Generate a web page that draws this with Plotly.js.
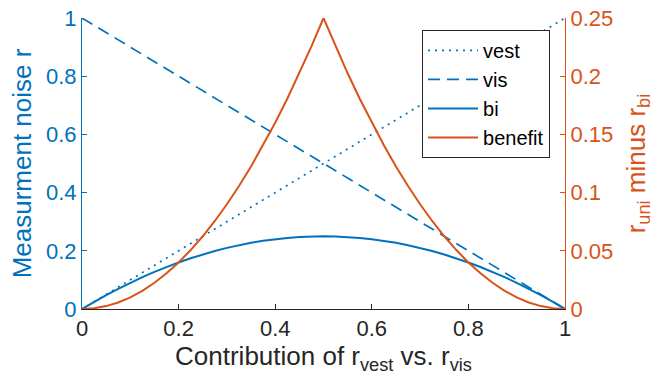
<!DOCTYPE html>
<html>
<head>
<meta charset="utf-8">
<script src="https://cdn.plot.ly/plotly-3.0.1.min.js"></script>
<style>
  html, body { margin: 0; padding: 0; background: #ffffff; }
  #chart { width: 666px; height: 387px; }
</style>
</head>
<body>
<div id="chart"></div>
<script>
// Mixing weight between the vestibular and visual estimates
const contribution = [0, 0.025, 0.05, 0.075, 0.1, 0.125, 0.15, 0.175, 0.2, 0.225, 0.25,
  0.275, 0.3, 0.325, 0.35, 0.375, 0.4, 0.425, 0.45, 0.475, 0.5,
  0.525, 0.55, 0.575, 0.6, 0.625, 0.65, 0.675, 0.7, 0.725, 0.75,
  0.775, 0.8, 0.825, 0.85, 0.875, 0.9, 0.925, 0.95, 0.975, 1];

// Unimodal noise levels
const vestNoise = [0, 0.025, 0.05, 0.075, 0.1, 0.125, 0.15, 0.175, 0.2, 0.225, 0.25,
  0.275, 0.3, 0.325, 0.35, 0.375, 0.4, 0.425, 0.45, 0.475, 0.5,
  0.525, 0.55, 0.575, 0.6, 0.625, 0.65, 0.675, 0.7, 0.725, 0.75,
  0.775, 0.8, 0.825, 0.85, 0.875, 0.9, 0.925, 0.95, 0.975, 1];
const visNoise = [1, 0.975, 0.95, 0.925, 0.9, 0.875, 0.85, 0.825, 0.8, 0.775, 0.75,
  0.725, 0.7, 0.675, 0.65, 0.625, 0.6, 0.575, 0.55, 0.525, 0.5,
  0.475, 0.45, 0.425, 0.4, 0.375, 0.35, 0.325, 0.3, 0.275, 0.25,
  0.225, 0.2, 0.175, 0.15, 0.125, 0.1, 0.075, 0.05, 0.025, 0];

// Combined (bimodal) noise
const biNoise = [0, 0.024375, 0.0475, 0.069375, 0.09, 0.109375, 0.1275, 0.144375, 0.16, 0.174375, 0.1875,
  0.199375, 0.21, 0.219375, 0.2275, 0.234375, 0.24, 0.244375, 0.2475, 0.249375, 0.25,
  0.249375, 0.2475, 0.244375, 0.24, 0.234375, 0.2275, 0.219375, 0.21, 0.199375, 0.1875,
  0.174375, 0.16, 0.144375, 0.1275, 0.109375, 0.09, 0.069375, 0.0475, 0.024375, 0];

// Benefit of combining: best unimodal noise minus bimodal noise
const benefit = [0, 0.000625, 0.0025, 0.005625, 0.01, 0.015625, 0.0225, 0.030625, 0.04, 0.050625, 0.0625,
  0.075625, 0.09, 0.105625, 0.1225, 0.140625, 0.16, 0.180625, 0.2025, 0.225625, 0.25,
  0.225625, 0.2025, 0.180625, 0.16, 0.140625, 0.1225, 0.105625, 0.09, 0.075625, 0.0625,
  0.050625, 0.04, 0.030625, 0.0225, 0.015625, 0.01, 0.005625, 0.0025, 0.000625, 0];

const xTicks = [0, 0.2, 0.4, 0.6, 0.8, 1];
const leftTicks = [0, 0.2, 0.4, 0.6, 0.8, 1];
const rightTicks = [0, 0.05, 0.1, 0.15, 0.2, 0.25];

const BLUE = '#0072BD';
const ORANGE = '#D95319';
const INK = '#262626';
const FONT = 'Liberation Sans, Arial, Helvetica, sans-serif';

const traces = [
  { x: contribution, y: vestNoise, name: 'vest', mode: 'lines',
    line: { color: BLUE, width: 1.7, dash: '2px,5px' } },
  { x: contribution, y: visNoise, name: 'vis', mode: 'lines',
    line: { color: BLUE, width: 1.7, dash: '12px,7px' } },
  { x: contribution, y: biNoise, name: 'bi', mode: 'lines',
    line: { color: BLUE, width: 2 } },
  { x: contribution, y: benefit, name: 'benefit', mode: 'lines', yaxis: 'y2',
    line: { color: ORANGE, width: 2 } }
];

const layout = {
  width: 666, height: 387,
  margin: { l: 82, r: 101, t: 18, b: 78 },
  paper_bgcolor: '#ffffff', plot_bgcolor: '#ffffff',
  font: { family: FONT, size: 22, color: INK },
  showlegend: true,
  legend: {
    x: 0.704, y: 0.959, xanchor: 'left', yanchor: 'top',
    bgcolor: '#ffffff', bordercolor: INK, borderwidth: 1,
    font: { family: FONT, size: 20, color: '#000000' },
    itemwidth: 50, tracegroupgap: 0
  },
  xaxis: {
    range: [0, 1], tickvals: xTicks, ticktext: xTicks.map(String),
    showgrid: false, zeroline: false,
    showline: true, linecolor: INK, linewidth: 1,
    ticks: 'inside', ticklen: 5, tickcolor: INK,
    tickfont: { family: FONT, size: 22, color: INK },
    title: { text: 'Contribution of r<sub>vest</sub> vs. r<sub>vis</sub>',
      font: { family: FONT, size: 26, color: INK }, standoff: 4 }
  },
  yaxis: {
    range: [0, 1], tickvals: leftTicks, ticktext: leftTicks.map(String),
    showgrid: false, zeroline: false,
    showline: true, linecolor: BLUE, linewidth: 1,
    ticks: 'inside', ticklen: 5, tickcolor: BLUE,
    tickfont: { family: FONT, size: 22, color: BLUE },
    title: { text: 'Measurment noise r',
      font: { family: FONT, size: 26, color: BLUE }, standoff: 6 }
  },
  yaxis2: {
    overlaying: 'y', side: 'right',
    range: [0, 0.25], tickvals: rightTicks, ticktext: rightTicks.map(String),
    showgrid: false, zeroline: false,
    showline: true, linecolor: ORANGE, linewidth: 1,
    ticks: 'inside', ticklen: 5, tickcolor: ORANGE,
    tickfont: { family: FONT, size: 22, color: ORANGE },
    title: { text: 'r<sub>uni</sub> minus r<sub>bi</sub>',
      font: { family: FONT, size: 26, color: ORANGE }, standoff: 14 }
  }
};

Plotly.newPlot('chart', traces, layout, { displayModeBar: false, staticPlot: true });
</script>
</body>
</html>
